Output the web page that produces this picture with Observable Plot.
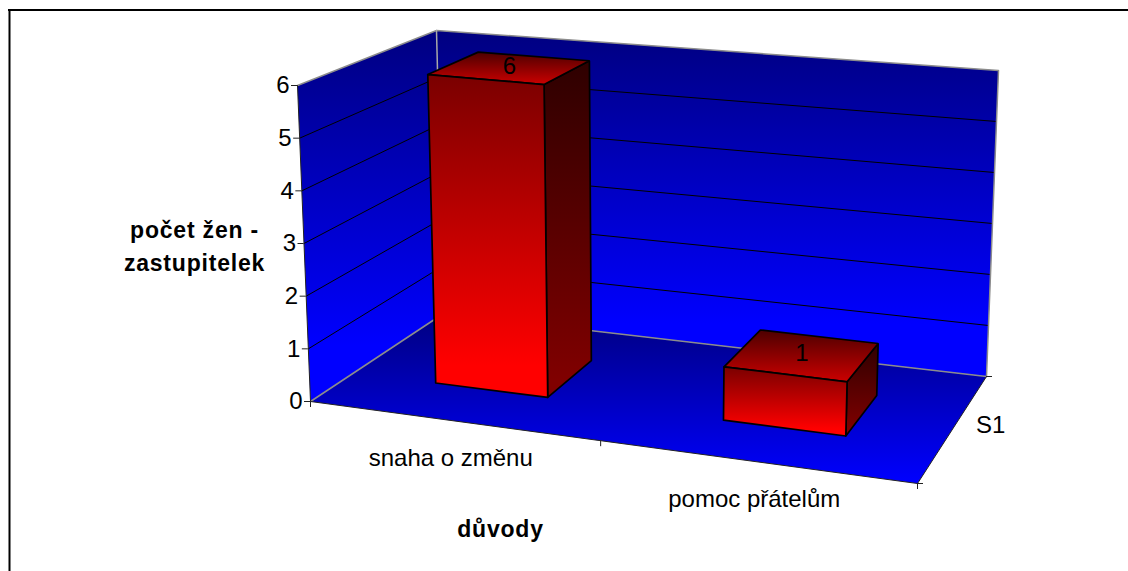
<!DOCTYPE html>
<html>
<head>
<meta charset="utf-8">
<style>html,body{margin:0;padding:0;background:#fff;overflow:hidden}svg{display:block}.boldTitle text{letter-spacing:0.8px}</style>
<script src="https://cdn.jsdelivr.net/npm/d3@7"></script>
<script src="https://cdn.jsdelivr.net/npm/@observablehq/plot@0.6"></script>
</head>
<body>
<div id="chart"></div>
<script>
// Data
const categories = ["snaha o změnu", "pomoc přátelům"];
const values = [6, 1];
const seriesNames = ["S1"];
const valueTicks = [0, 1, 2, 3, 4, 5, 6];
const axisTitleY = ["počet žen -", "zastupitelek"];
const axisTitleX = ["důvody"];

// Camera: screen position of the eight corners of the chart box
const vMax = 6;
const box = {
  f0: {l: [310, 401], r: [917, 483]},  // front edge at value 0
  b0: {l: [443, 313], r: [986, 376]},  // back edge at value 0
  f1: {l: [297, 85],  r: [928, 143]},  // front edge at value max
  b1: {l: [436, 30],  r: [998, 70]}    // back edge at value max
};
const mix = (a, b, t) => [a[0] + (b[0] - a[0]) * t, a[1] + (b[1] - a[1]) * t];
// u: position along categories (0..1), w: depth (0..1), v: value
function project(u, w, v) {
  const uu = u - 0.088 * u * (1 - u);  // perspective foreshortening
  const bottom = mix(mix(box.f0.l, box.f0.r, uu), mix(box.b0.l, box.b0.r, uu), w);
  const top = mix(mix(box.f1.l, box.f1.r, uu), mix(box.b1.l, box.b1.r, uu), w);
  const p = mix(bottom, top, v / vMax);
  return {x: p[0], y: p[1]};
}
const pts = (list) => list.map(([u, w, v]) => project(u, w, v));

const FONT = "Liberation Sans, Arial, sans-serif";
const gradients = {
  wall: ["#000080", "#0000ff", "85%"],
  floor: ["#000080", "#0000ff", "100%"],
  barFront: ["#7a0000", "#ff0000", "90%"],
  barSide: ["#2e0000", "#800000", "95%"],
  barTop: ["#4d0000", "#cc0000", "100%"]
};
const defs = () => {
  const d = d3.create("svg:defs");
  for (const [id, [a, b, end]] of Object.entries(gradients)) {
    const g = d.append("linearGradient").attr("id", id)
      .attr("x1", 0).attr("y1", 0).attr("x2", 0).attr("y2", 1);
    g.append("stop").attr("offset", "0%").attr("stop-color", a);
    g.append("stop").attr("offset", end).attr("stop-color", b);
  }
  return d.node();
};
const face = (list, fill, stroke = "none") => {
  const p = pts(list);
  return Plot.line([...p, p[0]], {x: "x", y: "y", fill, stroke, strokeWidth: 1.7, strokeLinejoin: "miter"});
};
const seg = (list, stroke, strokeWidth = 1) =>
  Plot.line(pts(list), {x: "x", y: "y", stroke, strokeWidth});

// Frame, walls and floor
const marks = [
  defs,
  Plot.ruleY([9.5], {x1: 8, x2: 1128, stroke: "#000", strokeWidth: 2}),
  Plot.ruleX([9], {y1: 9, y2: 571, stroke: "#000", strokeWidth: 2}),
  face([[0, 0, 0], [0, 1, 0], [0, 1, vMax], [0, 0, vMax]], "url(#wall)"),
  face([[0, 1, 0], [1, 1, 0], [1, 1, vMax], [0, 1, vMax]], "url(#wall)"),
  face([[0, 0, 0], [1, 0, 0], [1, 1, 0], [0, 1, 0]], "url(#floor)")
];

// Gridlines on both walls
for (const v of valueTicks.filter((t) => t > 0 && t < vMax)) {
  marks.push(seg([[0, 0, v], [0, 1, v], [1, 1, v]], "#000", 1));
}

// Wall edges
marks.push(seg([[0, 0, vMax], [0, 1, vMax], [1, 1, vMax], [1, 1, 0]], "#8c8c8c", 1.5));
marks.push(seg([[0, 1, vMax], [0, 1, 0]], "#a8a8a8", 1.5));
marks.push(seg([[0, 0, 0], [0, 1, 0], [1, 1, 0]], "#8c8c8c", 1.5));
marks.push(seg([[0, 0, vMax], [0, 0, 0], [1, 0, 0], [1, 1, 0]], "#222", 1));

// Ticks
const valueAnchors = valueTicks.map((v) => ({...project(0, 0, v), v}));
marks.push(Plot.ruleY(valueAnchors, {y: "y", x1: (d) => d.x - 6, x2: "x", stroke: "#222", strokeWidth: 1}));
const catTicks = d3.range(categories.length + 1).map((i) => project(i / categories.length, 0, 0));
marks.push(Plot.ruleX(catTicks, {x: "x", y1: "y", y2: (d) => d.y + 6, stroke: "#222", strokeWidth: 1}));
const depthTicks = d3.range(seriesNames.length + 1).map((i) => project(1, i / seriesNames.length, 0));
marks.push(Plot.ruleY(depthTicks, {y: "y", x1: "x", x2: (d) => d.x + 6, stroke: "#222", strokeWidth: 1}));

// Bars
const barHalf = 0.1, wFront = 0.33, wBack = 0.72;
categories.forEach((c, i) => {
  const mid = (i + 0.5) / categories.length;
  const a = mid - barHalf, b = mid + barHalf, v = values[i];
  marks.push(face([[b, wFront, 0], [b, wBack, 0], [b, wBack, v], [b, wFront, v]], "url(#barSide)", "#000"));
  marks.push(face([[a, wFront, v], [b, wFront, v], [b, wBack, v], [a, wBack, v]], "url(#barTop)", "#000"));
  marks.push(face([[a, wFront, 0], [b, wFront, 0], [b, wFront, v], [a, wFront, v]], "url(#barFront)", "#000"));
});

// Text
const textBase = {x: "x", y: "y", text: "t", fontFamily: FONT, fontSize: 24, fill: "#000", lineAnchor: "middle"};
marks.push(Plot.text(values.map((v, i) => ({...project((i + 0.5) / categories.length, (wFront + wBack) / 2, v), t: String(v)})),
  {...textBase, dy: -2}));
marks.push(Plot.text(valueAnchors.map((d) => ({...d, t: String(d.v)})), {...textBase, textAnchor: "end", dx: -8}));
marks.push(Plot.text(categories.map((c, i) => ({...project((i + 0.5) / categories.length, 0, 0), t: c})),
  {...textBase, dx: -1.5, dy: 37.5}));
marks.push(Plot.text(seriesNames.map((s) => ({...project(1, 0.5, 0), t: s})), {...textBase, textAnchor: "start", dx: 24, dy: -5}));
const boldBase = {...textBase, fontSize: 23, fontWeight: "bold", className: "boldTitle"};
marks.push(Plot.text(axisTitleY.map((t, i) => ({x: 194, y: 230 + 33 * i, t})), boldBase));
marks.push(Plot.text(axisTitleX.map((t) => ({x: 500, y: 529, t})), boldBase));

const chart = Plot.plot({
  width: 1128,
  height: 571,
  margin: 0,
  style: {background: "#fff"},
  x: {domain: [0, 1128], range: [0, 1128], axis: null},
  y: {domain: [0, 571], range: [0, 571], axis: null},
  marks
});
document.getElementById("chart").appendChild(chart);
</script>
</body>
</html>
